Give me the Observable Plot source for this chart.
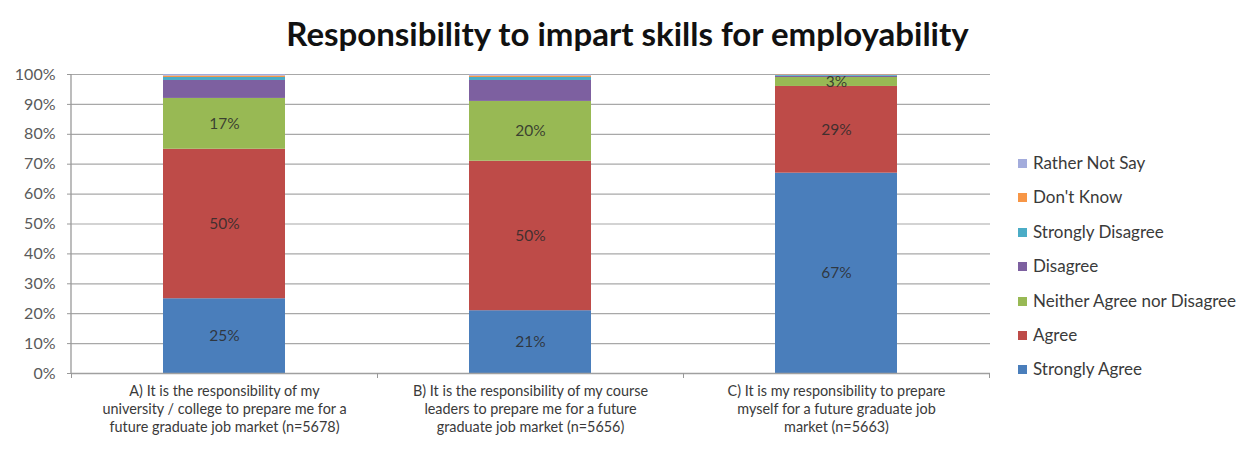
<!DOCTYPE html>
<html>
<head>
<meta charset="utf-8">
<script src="https://cdn.jsdelivr.net/npm/d3@7"></script>
<script src="https://cdn.jsdelivr.net/npm/@observablehq/plot@0.6"></script>
<style>
  body { margin: 0; background: #fff; font-family: Lato, "Open Sans", sans-serif; }
  #wrap { position: relative; width: 1249px; height: 455px; overflow: hidden; background: #fff; }
  #title { position: absolute; left: 0; top: 13px; width: 1255px; text-align: center; font-weight: bold; font-size: 33px; line-height: 40px; color: #111; font-family: Lato, "Open Sans", sans-serif; }
  #chart { position: absolute; left: 0; top: 55px; }
  #legend { position: absolute; left: 1018px; top: 152px; font-size: 17px; color: #3a3a3a; }
  .li { height: 34.4px; display: flex; align-items: flex-start; white-space: nowrap; line-height: 22px; }
  .sw { width: 9px; height: 9px; margin-right: 6px; margin-top: 7px; flex: none; }
</style>
</head>
<body>
<div id="wrap">
  <div id="title">Responsibility to impart skills for employability</div>
  <div id="chart"></div>
  <div id="legend"></div>
</div>
<script>
const categories = ["A", "B", "C"];
const categoryLabels = [
  "A) It is the responsibility of my\nuniversity / college to prepare me for a\nfuture graduate job market (n=5678)",
  "B) It is the responsibility of my course\nleaders to prepare me for a future\ngraduate job market (n=5656)",
  "C) It is my responsibility to prepare\nmyself for a future graduate job\nmarket (n=5663)"
];
const responses = ["Strongly Agree", "Agree", "Neither Agree nor Disagree", "Disagree", "Strongly Disagree", "Don't Know", "Rather Not Say"];
const colors = ["#4a7ebb", "#be4b48", "#98b954", "#7d60a0", "#4bacc6", "#f79646", "#a3acdc"];
const labelledResponses = ["Strongly Agree", "Agree", "Neither Agree nor Disagree"];

const valuesA = [25, 50, 17, 6, 1, 0.5, 0.5];
const valuesB = [21, 50, 20, 7, 1, 0.5, 0.5];
const valuesC = [67, 29, 3, 0.4, 0.3, 0.2, 0.1];

const yTicks = [0, 10, 20, 30, 40, 50, 60, 70, 80, 90, 100];

const seriesByCat = {A: valuesA, B: valuesB, C: valuesC};
const data = [];
for (const c of categories) {
  responses.forEach((r, i) => data.push({cat: c, resp: r, value: seriesByCat[c][i]}));
}
const labelOf = Object.fromEntries(categories.map((c, i) => [c, categoryLabels[i]]));

const plot = Plot.plot({
  width: 1249,
  height: 400,
  marginLeft: 71,
  marginRight: 259,
  marginTop: 19,
  marginBottom: 82,
  style: {fontFamily: "Lato, 'Open Sans', sans-serif", background: "#fff"},
  x: {domain: categories, paddingInner: 0.6, paddingOuter: 0.3, label: null},
  y: {domain: [0, 100], label: null},
  color: {domain: responses, range: colors},
  marks: [
    Plot.ruleY(yTicks, {stroke: "#a8a8a8", strokeWidth: 1.2}),
    Plot.barY(data, Plot.stackY({x: "cat", y: "value", fill: "resp", order: responses})),
    Plot.text(data, Plot.stackY({
      x: "cat", y: "value", z: "resp", order: responses,
      text: d => labelledResponses.includes(d.resp) ? d.value + "%" : "",
      fill: "#2a2a2a", fontSize: 15.5, fillOpacity: 0.85
    })),
    Plot.axisY({ticks: yTicks, tickSize: 4, tickPadding: 12, tickFormat: d => d + "%", fontSize: 16, fill: "#5a5a5a", stroke: "#999"}),
    Plot.ruleY([0], {stroke: "#a0a0a0", strokeWidth: 1.5}),
    Plot.axisX({tickSize: 0, tickPadding: 10, tickFormat: d => labelOf[d], fontSize: 14.4, lineHeight: 1.25, fill: "#3a3a3a"}),
    Plot.axisX({ticks: categories, tickSize: 5, dx: -153, text: null, stroke: "#999"}),
    Plot.axisX({ticks: ["C"], tickSize: 5, dx: 153, text: null, stroke: "#999"})
  ]
});
document.getElementById("chart").appendChild(plot);
// y-axis line
d3.select(plot).append("line").attr("x1", 71).attr("x2", 71).attr("y1", 19).attr("y2", 318).attr("stroke", "#999").attr("stroke-width", 1.3);

const legend = document.getElementById("legend");
for (let i = responses.length - 1; i >= 0; i--) {
  const row = document.createElement("div");
  row.className = "li";
  const sw = document.createElement("span");
  sw.className = "sw";
  sw.style.background = colors[i];
  const t = document.createElement("span");
  t.textContent = responses[i];
  row.appendChild(sw); row.appendChild(t);
  legend.appendChild(row);
}
</script>
</body>
</html>
